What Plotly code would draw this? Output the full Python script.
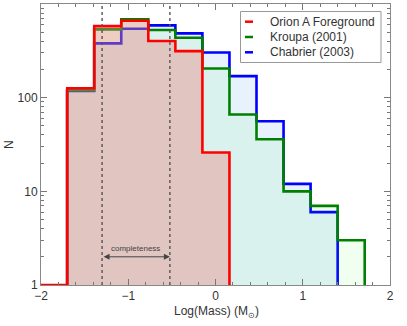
import plotly.graph_objects as go
import math

# ---- data ----
bin_edges = [-2.01, -1.70, -1.39, -1.08, -0.77, -0.46, -0.15, 0.16, 0.47, 0.78, 1.09, 1.40, 1.71]
orion_counts = [1, 126, 581, 662, 402, 314, 26, 0, 0, 0, 0, 0]
kroupa_counts = [0, 120, 536, 685, 527, 436, 205, 66, 36, 10, 7, 3]
chabrier_counts = [0, 118, 380, 544, 591, 486, 304, 170, 56, 12, 6, 0]
series_names = ["Orion A Foreground", "Kroupa (2001)", "Chabrier (2003)"]
completeness_limits = [-1.30, math.log10(0.3)]
y_tick_vals = [1, 10, 100, 1000]
y_tick_text = ["1", "10", "100", "1000"]
x_tick_vals = [-2, -1, 0, 1, 2]

BASE = 1  # bottom of the log axis


def step_path(edges, counts):
    nz = [i for i, c in enumerate(counts) if c > 0]
    i0, i1 = nz[0], nz[-1]
    xs, ys = [edges[i0]], [BASE]
    for i in range(i0, i1 + 1):
        v = max(counts[i], BASE)
        xs += [edges[i], edges[i + 1]]
        ys += [v, v]
    xs.append(edges[i1 + 1])
    ys.append(BASE)
    return xs, ys


W, H = 407, 326
ML, MR, MT, MB = 41, 17, 4, 41

fig = go.Figure()
styles = [
    (chabrier_counts, "#0000ff", "rgba(30,130,240,0.10)"),
    (kroupa_counts, "#008000", "rgba(0,255,0,0.06)"),
    (orion_counts, "#ff0000", "rgba(236,130,126,0.40)"),
]
for counts, lc, fc in styles:
    xs, ys = step_path(bin_edges, counts)
    fig.add_trace(go.Scatter(x=xs, y=ys, mode="lines", fill="toself", fillcolor=fc,
                             line=dict(color=lc, width=2.6), showlegend=False,
                             hoverinfo="skip"))

# completeness dashed lines
for xv in completeness_limits:
    fig.add_shape(type="line", xref="x", yref="paper", x0=xv, x1=xv, y0=0, y1=1,
                  line=dict(color="#555555", width=1.4, dash="3px,3px"), layer="above")

# completeness arrow
fig.add_annotation(x=completeness_limits[1], y=math.log10(2), ax=completeness_limits[0],
                   ay=math.log10(2), xref="x", yref="y", axref="x", ayref="y",
                   showarrow=True, arrowhead=2, arrowside="end+start", arrowsize=1.2,
                   arrowwidth=1, arrowcolor="#444444", text="")
fig.add_annotation(x=sum(completeness_limits) / 2, y=math.log10(2.45), xref="x", yref="y",
                   text="completeness", showarrow=False,
                   font=dict(size=8, color="#444444"))


def px(x):
    return (x - ML) / (W - ML - MR)


def py(y):
    return 1 - (y - MT) / (H - MT - MB)


fig.update_layout(
    width=W, height=H,
    margin=dict(l=ML, r=MR, t=MT, b=MB),
    plot_bgcolor="white", paper_bgcolor="white",
    font=dict(family="Liberation Sans", size=12, color="#333333"),
    xaxis=dict(range=[-2, 2], tickvals=x_tick_vals, ticks="inside", ticklen=6,
               tickcolor="#777777", showline=True, linecolor="#888888", linewidth=1,
               mirror="allticks", showgrid=False, zeroline=False, automargin=False,
               minor=dict(ticks="inside", ticklen=3, dtick=0.2, tick0=0, tickcolor="#777777")),
    yaxis=dict(type="log", range=[0, 3], tickvals=y_tick_vals, ticktext=y_tick_text,
               ticks="inside", ticklen=6, tickcolor="#777777", showline=True,
               linecolor="#888888", linewidth=1, mirror="allticks", showgrid=False,
               zeroline=False, automargin=False,
               minor=dict(ticks="inside", ticklen=3, tickcolor="#777777",
                          tickmode="array",
                          tickvals=[m * d for d in (1, 10, 100) for m in range(2, 10)])),
)

# axis titles
fig.add_annotation(xref="paper", yref="paper", x=px(216), y=py(312),
                   xanchor="center", yanchor="middle",
                   text="Log(Mass) (M<sub>⊙</sub>)", showarrow=False,
                   font=dict(size=12, color="#333333"))
fig.add_annotation(xref="paper", yref="paper", x=px(9), y=py(145), text="N",
                   xanchor="center", yanchor="middle",
                   showarrow=False, textangle=-90, font=dict(size=12, color="#333333"))

# legend box drawn in paper coordinates
legend_colors = ["#ff0000", "#008000", "#0000ff"]
row_y = [21.7, 37.0, 52.3]
fig.add_shape(type="rect", xref="paper", yref="paper", x0=px(240.5), x1=px(381),
              y0=py(62.5), y1=py(11.5), line=dict(color="#999999", width=1),
              fillcolor="white", layer="above")
for name, col, ry in zip(series_names, legend_colors, row_y):
    fig.add_shape(type="line", xref="paper", yref="paper", x0=px(245), x1=px(253),
                  y0=py(ry), y1=py(ry), line=dict(color=col, width=2.5), layer="above")
    fig.add_annotation(xref="paper", yref="paper", x=px(268), y=py(ry), text=name,
                       showarrow=False, xanchor="left", yanchor="middle",
                       font=dict(size=12, color="#333333"))

fig.write_html("out.html", config={"displayModeBar": False},
               post_script="document.body.style.margin='0';")
